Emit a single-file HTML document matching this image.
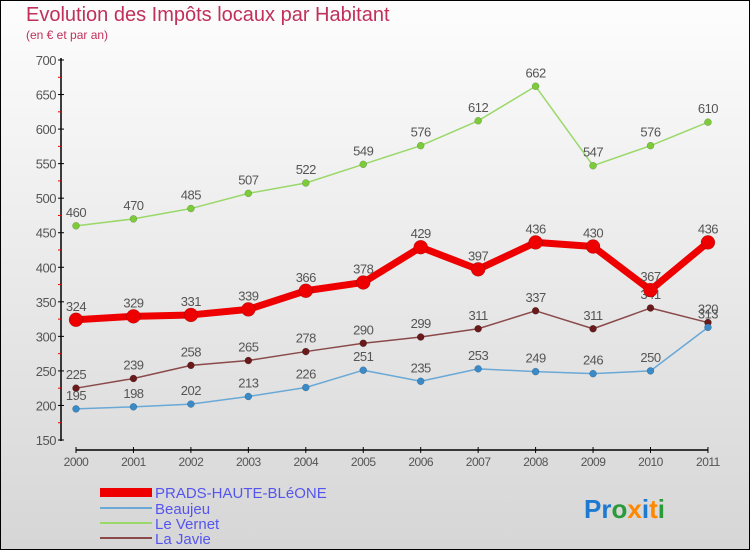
<!DOCTYPE html>
<html><head><meta charset="utf-8"><style>
body{margin:0}
#c{width:750px;height:550px;position:relative;background:linear-gradient(#fdfdfd,#d6d6d6);box-sizing:border-box;border:1px solid #000;overflow:hidden;font-family:"Liberation Sans","DejaVu Sans",sans-serif}
</style></head><body>
<div id="c">
<svg id="s" width="750" height="550" style="position:absolute;left:-1px;top:-1px">
<text x="26" y="21" font-size="20" fill="#c0305a">Evolution des Impôts locaux par Habitant</text>
<text x="26" y="39" font-size="12" fill="#c0305a">(en € et par an)</text>
<g id="g"></g>
<g>
<rect x="100" y="488" width="52" height="9" fill="#ee0000"/>
<text x="155" y="498" font-size="15" fill="#5555ee">PRADS-HAUTE-BLéONE</text>
<line x1="100" y1="508" x2="152" y2="508" stroke="#6aa8d6" stroke-width="2"/>
<text x="155" y="514" font-size="15" fill="#5555ee">Beaujeu</text>
<line x1="100" y1="523" x2="152" y2="523" stroke="#9ad86a" stroke-width="2"/>
<text x="155" y="529" font-size="15" fill="#5555ee">Le Vernet</text>
<line x1="100" y1="538" x2="152" y2="538" stroke="#8a4a4a" stroke-width="2"/>
<text x="155" y="544" font-size="15" fill="#5555ee">La Javie</text>
</g>
<text x="584" y="518" font-size="26" font-weight="bold"><tspan fill="#1e7ad0">Pr</tspan><tspan fill="#2a9a3a">o</tspan><tspan fill="#ff8800">x</tspan><tspan fill="#1e7ad0">i</tspan><tspan fill="#ff8800">t</tspan><tspan fill="#2a9a3a">i</tspan></text>
</svg>
</div>
<script>
const years=[2000,2001,2002,2003,2004,2005,2006,2007,2008,2009,2010,2011];
const prads=[324,329,331,339,366,378,429,397,436,430,367,436];
const beaujeu=[195,198,202,213,226,251,235,253,249,246,250,313];
const vernet=[460,470,485,507,522,549,576,612,662,547,576,610];
const javie=[225,239,258,265,278,290,299,311,337,311,341,320];
const yTicks=[150,200,250,300,350,400,450,500,550,600,650,700];
const NS='http://www.w3.org/2000/svg';
const g=document.getElementById('g');
function X(i){return 76+i*57.45;}
function Y(v){return 440-(v-150)*380/550;}
function el(t,a,p){const e=document.createElementNS(NS,t);for(const k in a)e.setAttribute(k,a[k]);(p||g).appendChild(e);return e;}
let ax=el('line',{x1:61,y1:58,x2:61,y2:441,stroke:'#000','stroke-width':1.5});


yTicks.forEach(v=>{
 el('line',{x1:58,y1:Y(v),x2:64,y2:Y(v),stroke:'#000'});
 if(v<700){el('line',{x1:58,y1:Y(v+25),x2:61,y2:Y(v+25),stroke:'#e00'});}
 const t=el('text',{x:56,y:Y(v)+5,'font-size':13,fill:'#555','text-anchor':'end','letter-spacing':'-0.5'});
 t.textContent=v;
 
 
});
let xa=el('line',{x1:X(0),y1:450,x2:X(11),y2:450,stroke:'#000','stroke-width':1.5});


years.forEach((y,i)=>{
 el('line',{x1:X(i),y1:447,x2:X(i),y2:453,stroke:'#000'});
 const t=el('text',{x:X(i),y:466,'font-size':12,fill:'#555','text-anchor':'middle','letter-spacing':'-0.5'});
 t.textContent=y;
 
 
});
function series(data,color,w,r,fill,name){
 const p=el('polyline',{points:data.map((v,i)=>X(i)+','+Y(v)).join(' '),fill:'none',stroke:color,'stroke-width':w,'stroke-linejoin':'round'});
 
 
 data.forEach((v,i)=>{
  const c=el('circle',{cx:X(i),cy:Y(v),r:r,fill:fill,stroke:'rgba(0,0,0,0.3)','stroke-width':0.5});
  
  
  const t=el('text',{x:X(i),y:Y(v)-9,'font-size':13,fill:'#555','text-anchor':'middle','letter-spacing':'-0.5'});
  t.textContent=v;
  
  
 });
}
series(vernet,'#9ad86a',1.5,3.5,'#7ccc3a','le-vernet');
series(javie,'#8a4a4a',1.5,3.5,'#6a1a1a','la-javie');
series(beaujeu,'#6aa8d6',1.5,3.5,'#3a8ac8','beaujeu');
series(prads,'#ee0000',7,7,'#ee0000','prads');
</script>
</body></html>
